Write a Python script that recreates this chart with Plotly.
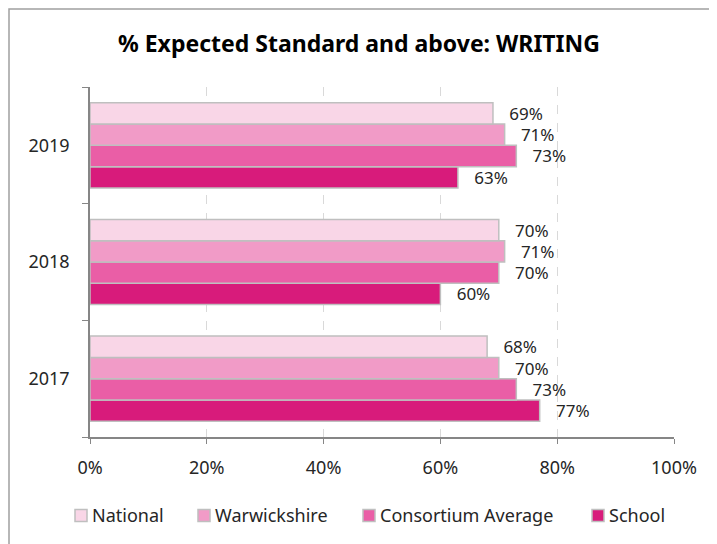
import plotly.graph_objects as go

years = ["2017", "2018", "2019"]
series_names = ["National", "Warwickshire", "Consortium Average", "School"]
national = [0.68, 0.70, 0.69]
warwickshire = [0.70, 0.71, 0.71]
consortium = [0.73, 0.70, 0.73]
school = [0.77, 0.60, 0.63]
colors = ["#F9D6E7", "#F19BC7", "#EA5EA6", "#D81B7B"]
legend_x = [67, 190, 355, 584]  # left edge of each legend swatch (px)

values = [national, warwickshire, consortium, school]
font_family = "Noto Sans, Open Sans, sans-serif"

# page body has an 8px margin; figure is sized/offset to compensate
W, H = 709, 536
L, T, PW, PH = 82, 79, 584, 350

fig = go.Figure()
# add in reverse so National sits at the top of each group
for name, vals, col in reversed(list(zip(series_names, values, colors))):
    fig.add_trace(go.Bar(
        y=years, x=vals, name=name, orientation="h",
        marker=dict(color=col, line=dict(color="#BFBFBF", width=1.5)),
        texttemplate="\u00a0\u00a0\u00a0%{x:.0%}", textposition="outside",
        constraintext="none",
        textfont=dict(size=17, color="#262626", family=font_family),
        cliponaxis=False, showlegend=False,
    ))

shapes = [dict(type="rect", xref="paper", yref="paper",
               x0=(1 - L) / PW, x1=(W + 20 - L) / PW,
               y0=-(H + 20 - T - PH) / PH, y1=(T + PH - 1) / PH,
               line=dict(color="#A0A0A0", width=1.5), fillcolor="rgba(0,0,0,0)")]
annotations = []
LY = 507.5  # legend centre line (px from top)
for name, col, lx in zip(series_names, colors, legend_x):
    shapes.append(dict(type="rect", xref="paper", yref="paper",
                       x0=(lx - L) / PW, x1=(lx + 12 - L) / PW,
                       y0=(T + PH - (LY + 6)) / PH, y1=(T + PH - (LY - 6)) / PH,
                       line=dict(color="#BFBFBF", width=1.5), fillcolor=col))
    annotations.append(dict(text=name, xref="paper", yref="paper",
                            x=(lx + 15 - L) / PW, y=(T + PH - LY) / PH,
                            xanchor="left", yanchor="middle", showarrow=False,
                            font=dict(size=18, color="#262626", family=font_family)))

fig.update_layout(
    width=W, height=H,
    margin=dict(l=L, r=W - L - PW, t=T, b=H - T - PH, autoexpand=False),
    paper_bgcolor="white", plot_bgcolor="white",
    barmode="group", bargap=0.27, bargroupgap=0,
    font=dict(family=font_family, size=18, color="#262626"),
    showlegend=False,
    title=dict(text="<b>% Expected Standard and above: WRITING</b>",
               x=0.495, xanchor="center", y=1 - 36 / H, yanchor="middle",
               font=dict(size=23, color="#000000", family=font_family)),
    xaxis=dict(range=[0, 1], tickformat=".0%", dtick=0.2,
               showgrid=True, gridcolor="#D9D9D9", griddash="dash", gridwidth=1,
               showline=True, linecolor="#868686", linewidth=1.5,
               ticks="outside", ticklen=5, tickcolor="#868686",
               ticklabelstandoff=9,
               zeroline=False, tickfont=dict(size=18, color="#262626")),
    yaxis=dict(type="category", categoryorder="array", categoryarray=years,
               showline=True, linecolor="#868686", linewidth=1.5,
               ticks="outside", ticklen=6, tickcolor="#868686", tickson="boundaries",
               ticklabelstandoff=15,
               showgrid=False, tickfont=dict(size=18, color="#262626")),
    shapes=shapes,
    annotations=annotations,
)

fig.write_html("out.html")
